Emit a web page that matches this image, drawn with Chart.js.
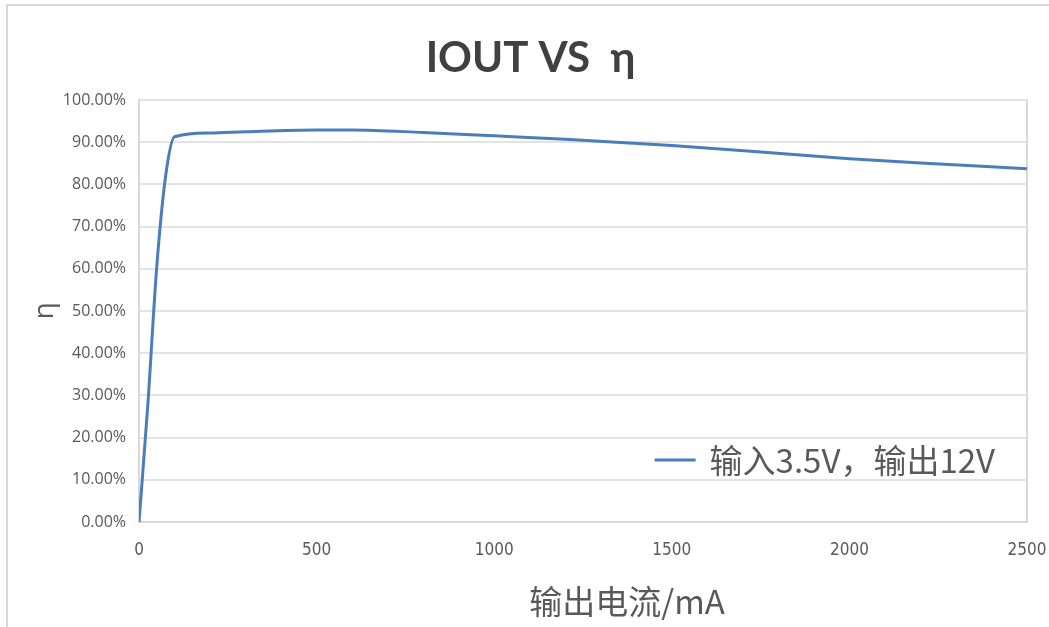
<!DOCTYPE html>
<html>
<head>
<meta charset="utf-8">
<script src="https://cdn.jsdelivr.net/npm/chart.js@4"></script>
<style>
    body { margin: 0; background: #ffffff; }
    .rahmen {
        position: absolute; left: 6px; top: 4px; width: 1060px; height: 640px;
        border-left: 2px solid #d9d9d9; border-top: 2px solid #d9d9d9;
    }
    .diagramm { position: absolute; left: 0; top: 0; width: 1049px; height: 627px; }
</style>
</head>
<body>
<div class="rahmen"></div>
<div class="diagramm"><canvas id="wirkungsgradKurve"></canvas></div>
<script>
const stromMA = [0, 25, 50, 75, 100, 200, 300, 500, 600, 800, 1000, 1200, 1500, 1750, 2000, 2200, 2500];
const wirkungsgrad = [0, 0.28, 0.605, 0.82, 0.913, 0.922, 0.925, 0.929, 0.929, 0.923, 0.915, 0.907, 0.892, 0.877, 0.861, 0.851, 0.837];
const xTicks = [0, 500, 1000, 1500, 2000, 2500];
const serienName = "输入3.5V，输出12V";
const xTitel = "输出电流/mA";
const grau = "#595959";

// Legende im Diagrammbereich unten rechts, X-Titel leicht nach rechts versetzt wie im Original
const innenLegende = {
    id: "innenLegende",
    afterDraw(chart) {
        const { ctx, chartArea } = chart;
        const ds = chart.data.datasets[0];
        ctx.save();
        ctx.font = "33px 'Noto Sans CJK SC', sans-serif";
        ctx.fillStyle = grau;
        ctx.textAlign = "right";
        ctx.textBaseline = "middle";
        const rechts = chartArea.right - 32;
        const y = chartArea.bottom - 62;
        ctx.fillText(ds.label, rechts, y);
        const links = rechts - ctx.measureText(ds.label).width;
        ctx.strokeStyle = ds.borderColor;
        ctx.lineWidth = 3;
        ctx.beginPath();
        ctx.moveTo(links - 55, y);
        ctx.lineTo(links - 14, y);
        ctx.stroke();

        ctx.textAlign = "center";
        ctx.fillText(xTitel, (chartArea.left + chartArea.right) / 2 + 44, chartArea.bottom + 79);
        ctx.restore();
    },
};

(function kurve() {
    const data = {
        datasets: [
            {
                label: serienName,
                data: stromMA.map((x, i) => ({ x: x, y: wirkungsgrad[i] })),
                borderColor: "#4a7ebb",
                backgroundColor: "#4a7ebb",
                borderWidth: 3,
                pointRadius: 0,
                cubicInterpolationMode: "monotone",
            },
        ],
    };

    new Chart(document.getElementById("wirkungsgradKurve"), {
        type: "line",
        data: data,
        plugins: [innenLegende],
        options: {
            responsive: true,
            maintainAspectRatio: false,
            animation: false,
            layout: { padding: { left: 12, right: 0, top: 0, bottom: 0 } },
            plugins: {
                legend: { display: false },
                tooltip: { enabled: false },
                title: {
                    display: true,
                    text: "IOUT VS  η",
                    color: "#404040",
                    font: { family: "Lato, sans-serif", size: 42, weight: "bold", lineHeight: 1.2 },
                    padding: { top: 33, bottom: 16.6 },
                },
            },
            scales: {
                x: {
                    type: "linear",
                    min: 0,
                    max: 2500,
                    afterBuildTicks: (scale) => {
                        scale.ticks = xTicks.map((v) => ({ value: v }));
                    },
                    afterFit: (scale) => {
                        scale.height = 105;
                        scale.paddingLeft = 0;
                        scale.paddingRight = 22;
                    },
                    grid: {
                        drawTicks: false,
                        lineWidth: 2,
                        color: (c) => (c.tick && c.tick.value === 2500 ? "#d9d9d9" : "transparent"),
                    },
                    border: { display: true, color: "#d9d9d9", width: 2 },
                    ticks: {
                        color: grau,
                        padding: 18,
                        maxRotation: 0,
                        font: { family: "'DejaVu Sans Condensed', sans-serif", size: 17 },
                        callback: (v) => String(v),
                    },
                },
                y: {
                    min: 0,
                    max: 1,
                    afterFit: (scale) => {
                        scale.width = 127;
                    },
                    grid: { drawTicks: false, lineWidth: 2, color: "#e3e3e3" },
                    border: { display: true, color: "#d9d9d9", width: 2 },
                    ticks: {
                        stepSize: 0.1,
                        color: grau,
                        padding: 13,
                        font: { family: "'Open Sans', sans-serif", size: 16 },
                        callback: (v) => (v * 100).toFixed(2) + "%",
                    },
                    title: {
                        display: true,
                        text: "η",
                        color: grau,
                        font: { family: "'Open Sans', sans-serif", size: 28, lineHeight: 1.2 },
                        padding: { top: 16, bottom: 0 },
                    },
                },
            },
        },
    });
})();
</script>
</body>
</html>
